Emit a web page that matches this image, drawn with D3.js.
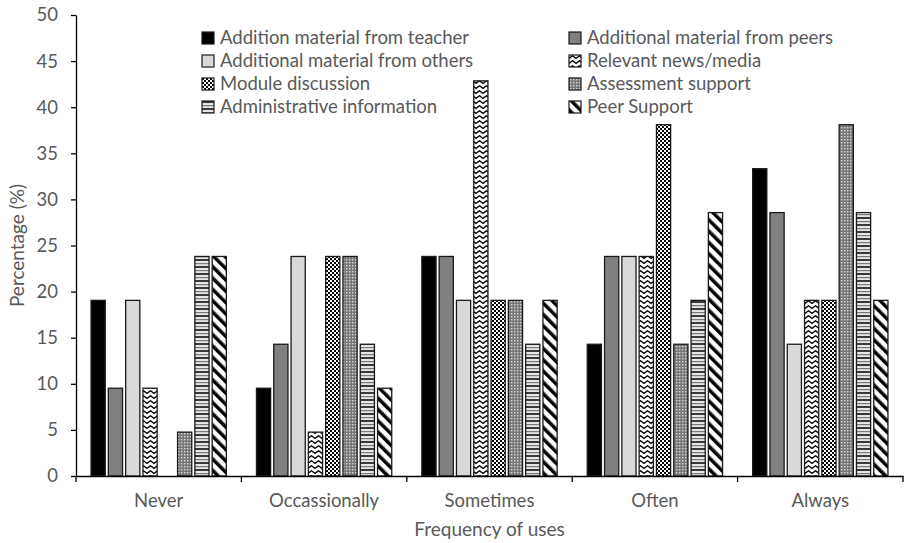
<!DOCTYPE html>
<html>
<head>
<meta charset="utf-8">
<script src="https://cdn.jsdelivr.net/npm/d3@7"></script>
<style>
  body { margin: 0; background: #fff; }
  text { font-family: Lato, "Open Sans", sans-serif; fill: #595959; }
</style>
</head>
<body>
<svg width="905" height="543"></svg>
<script>
var categories = ['Never', 'Occassionally', 'Sometimes', 'Often', 'Always'];
var seriesNames = [
  'Addition material from teacher',
  'Additional material from peers',
  'Additional material from others',
  'Relevant news/media',
  'Module discussion',
  'Assessment support',
  'Administrative information',
  'Peer Support'
];
// one array per series, values follow categories order
var teacher   = [19.05, 9.52, 23.81, 14.29, 33.33];
var peers     = [9.52, 14.29, 23.81, 23.81, 28.57];
var others    = [19.05, 23.81, 19.05, 23.81, 14.29];
var news      = [9.52, 4.76, 42.86, 23.81, 19.05];
var moduleDis = [0, 23.81, 19.05, 38.1, 19.05];
var assess    = [4.76, 23.81, 19.05, 14.29, 38.1];
var admin     = [23.81, 14.29, 14.29, 19.05, 28.57];
var peerSup   = [23.81, 9.52, 19.05, 28.57, 19.05];
var yTicks = [0, 5, 10, 15, 20, 25, 30, 35, 40, 45, 50];

var seriesValues = [teacher, peers, others, news, moduleDis, assess, admin, peerSup];
var fills = ['#000', '#808080', '#d9d9d9', 'url(#pZig)', 'url(#pCheck)', 'url(#pDots)', 'url(#pStripe)', 'url(#pDiag)'];

var svg = d3.select('svg');
var mLeft = 76, mTop = 15, mRight = 903, mBottom = 476;
var fontSize = '18.5px';

var defs = svg.append('defs');

// zigzag
var zig = defs.append('pattern').attr('id', 'pZig')
  .attr('patternUnits', 'userSpaceOnUse').attr('width', 7).attr('height', 5);
zig.append('rect').attr('width', 7).attr('height', 5).attr('fill', '#fff');
zig.append('path').attr('d', 'M-1,4.2 L3.5,0.8 L8,4.2').attr('fill', 'none')
  .attr('stroke', '#000').attr('stroke-width', 1.4);

// checker
var chk = defs.append('pattern').attr('id', 'pCheck')
  .attr('patternUnits', 'userSpaceOnUse').attr('width', 4).attr('height', 4);
chk.append('rect').attr('width', 4).attr('height', 4).attr('fill', '#fff');
chk.append('rect').attr('width', 2).attr('height', 2).attr('fill', '#000');
chk.append('rect').attr('x', 2).attr('y', 2).attr('width', 2).attr('height', 2).attr('fill', '#000');

// dotted gray
var dots = defs.append('pattern').attr('id', 'pDots')
  .attr('patternUnits', 'userSpaceOnUse').attr('width', 3).attr('height', 3);
dots.append('rect').attr('width', 3).attr('height', 3).attr('fill', '#777');
dots.append('rect').attr('x', 1).attr('y', 1).attr('width', 1.4).attr('height', 1.4).attr('fill', '#d8d8d8');

// horizontal stripes
var hs = defs.append('pattern').attr('id', 'pStripe')
  .attr('patternUnits', 'userSpaceOnUse').attr('width', 4).attr('height', 7);
hs.append('rect').attr('width', 4).attr('height', 7).attr('fill', '#e6e6e6');
hs.append('rect').attr('y', 0).attr('width', 4).attr('height', 2).attr('fill', '#3a3a3a');
hs.append('rect').attr('y', 4).attr('width', 4).attr('height', 1.2).attr('fill', '#7a7a7a');

// wide diagonal
var dg = defs.append('pattern').attr('id', 'pDiag')
  .attr('patternUnits', 'userSpaceOnUse').attr('width', 8).attr('height', 8)
  .attr('patternTransform', 'rotate(-45)');
dg.append('rect').attr('width', 8).attr('height', 8).attr('fill', '#fff');
dg.append('rect').attr('width', 3.5).attr('height', 8).attr('fill', '#000');

var x0 = d3.scaleBand().domain(categories).range([mLeft, mRight]);
var x1 = d3.scaleBand().domain(d3.range(seriesNames.length))
  .range([0, x0.bandwidth()]).paddingInner(0.18).paddingOuter(0.87);
var y = d3.scaleLinear().domain([0, 50]).range([mBottom, mTop]);

// bars
seriesValues.forEach(function(vals, si) {
  svg.append('g').selectAll('rect')
    .data(vals)
    .enter()
    .append('rect')
    .attr('x', function(d, i) { return x0(categories[i]) + x1(si); })
    .attr('y', function(d) { return y(d); })
    .attr('width', x1.bandwidth())
    .attr('height', function(d) { return mBottom - y(d); })
    .attr('fill', fills[si])
    .attr('stroke', function(d) { return d > 0 ? '#1a1a1a' : 'none'; })
    .attr('stroke-width', 1.3);
});

// y axis
var yAxis = svg.append('g').attr('transform', 'translate(' + mLeft + ',0)')
  .call(d3.axisLeft(y).tickValues(yTicks).tickSize(5).tickSizeOuter(0));
yAxis.select('.domain').attr('stroke', '#000').attr('stroke-width', 1.3);
yAxis.selectAll('.tick line').attr('stroke', '#000').attr('stroke-width', 1.3);
yAxis.selectAll('.tick text').attr('x', -18).style('font-size', fontSize)
  .style('font-family', 'Lato, sans-serif').attr('fill', '#595959');

// x axis
var xAxis = svg.append('g').attr('transform', 'translate(0,' + mBottom + ')')
  .call(d3.axisBottom(x0).tickSize(0).tickSizeOuter(0).tickPadding(18));
xAxis.select('.domain').attr('stroke', '#000').attr('stroke-width', 1.3);
xAxis.selectAll('.tick text').style('font-size', fontSize)
  .style('font-family', 'Lato, sans-serif').attr('fill', '#595959');
// tick marks on group boundaries, both ends included
var bounds = categories.map(function(d) { return x0(d); }).concat([mRight]);
svg.append('g').selectAll('line')
  .data(bounds)
  .enter()
  .append('line')
  .attr('x1', function(d) { return d; })
  .attr('x2', function(d) { return d; })
  .attr('y1', mBottom)
  .attr('y2', mBottom + 6)
  .attr('stroke', '#000')
  .attr('stroke-width', 1.3);

// axis titles
svg.append('text')
  .attr('transform', 'translate(24,' + ((mTop + mBottom) / 2) + ') rotate(-90)')
  .attr('text-anchor', 'middle')
  .style('font-size', '19px')
  .text('Percentage (%)');
svg.append('text')
  .attr('x', (mLeft + mRight) / 2)
  .attr('y', 536)
  .attr('text-anchor', 'middle')
  .style('font-size', '19px')
  .text('Frequency of uses');

// legend
var legend = svg.append('g').selectAll('g')
  .data(seriesNames)
  .enter()
  .append('g')
  .attr('transform', function(d, i) {
    var col = i % 2, row = Math.floor(i / 2);
    return 'translate(' + (col === 0 ? 202 : 569) + ',' + (32 + row * 23) + ')';
  });
legend.append('rect')
  .attr('width', 12).attr('height', 12)
  .attr('fill', function(d, i) { return fills[i]; })
  .attr('stroke', '#1a1a1a').attr('stroke-width', 1.2);
legend.append('text')
  .attr('x', 18).attr('y', 12)
  .style('font-size', fontSize)
  .text(function(d) { return d; });
</script>
</body>
</html>
